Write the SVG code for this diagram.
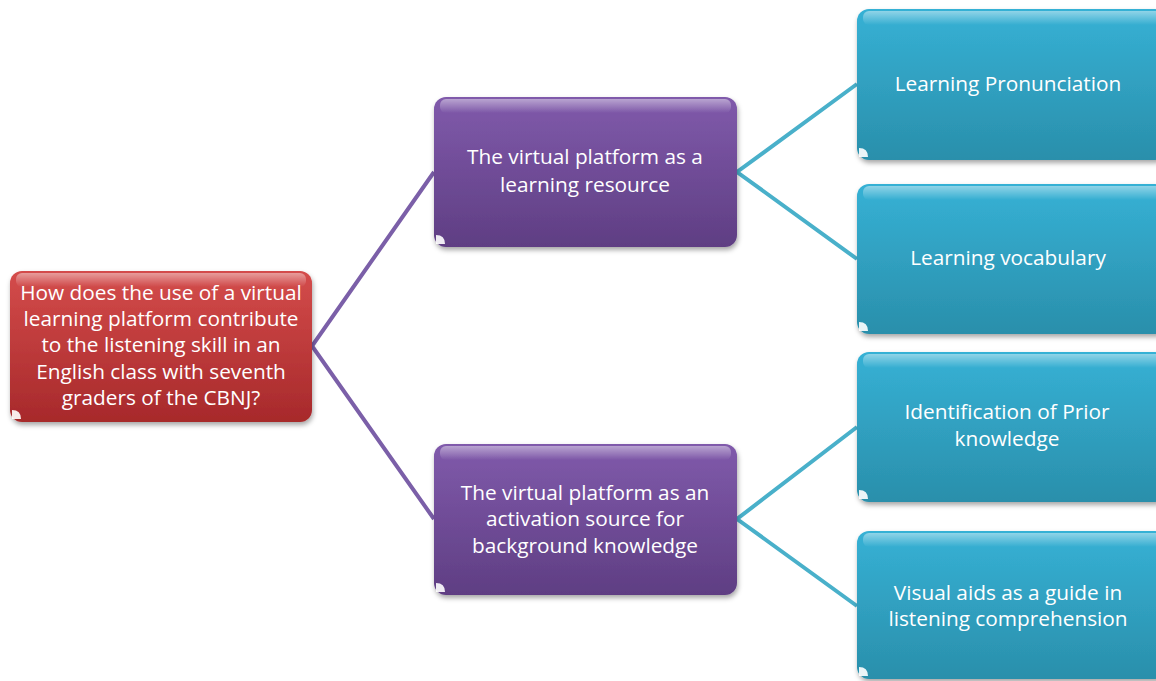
<svg xmlns="http://www.w3.org/2000/svg" width="1156" height="681" viewBox="0 0 1156 681">
<defs>
<linearGradient id="gRed" x1="0" y1="0" x2="0" y2="1"><stop offset="0" stop-color="#d44c4b"/><stop offset="1" stop-color="#a7292b"/></linearGradient>
<linearGradient id="gPur" x1="0" y1="0" x2="0" y2="1"><stop offset="0" stop-color="#805aab"/><stop offset="1" stop-color="#5f3e83"/></linearGradient>
<linearGradient id="gBlu" x1="0" y1="0" x2="0" y2="1"><stop offset="0" stop-color="#36b1d5"/><stop offset="1" stop-color="#2a8fab"/></linearGradient>
<linearGradient id="gHi" x1="0" y1="0" x2="0" y2="1"><stop offset="0" stop-color="#fff" stop-opacity="0.45"/><stop offset="1" stop-color="#fff" stop-opacity="0"/></linearGradient>
<filter id="sh" x="-10%" y="-10%" width="120%" height="130%"><feDropShadow dx="1" dy="3" stdDeviation="2.5" flood-color="#000" flood-opacity="0.35"/></filter>
</defs>
<style>
.t{font-family:"Open Sans","Liberation Sans",sans-serif;font-size:20.8px;fill:#fff;text-anchor:middle}
.hi{fill:url(#gHi)}
.cn{fill:#fff;opacity:0.9}
.cp{fill:none;stroke:#7b5fa8;stroke-width:4}
.cb{fill:none;stroke:#49b0ca;stroke-width:4}
</style>
<g id="connectors">
<polyline class="cp" points="434,172 312,346 434,519"/>
<polyline class="cb" points="857,84 737,172 857,259"/>
<polyline class="cb" points="857,427 737,519 857,606"/>
</g>
<g id="root">
<rect x="10" y="271" width="302" height="151" rx="12" fill="url(#gRed)" filter="url(#sh)"/>
<rect x="16" y="273" width="290" height="14" rx="6" class="hi"/>
<path class="cn" d="M12,410 L12,419 L21,419 Q21,410 12,410Z"/>
<text class="t" x="161" y="300">How does the use of a virtual</text>
<text class="t" x="161" y="326">learning platform contribute</text>
<text class="t" x="161" y="352">to the listening skill in an</text>
<text class="t" x="161" y="379">English class with seventh</text>
<text class="t" x="161" y="405">graders of the CBNJ?</text>
</g>
<g id="p1">
<rect x="434" y="97" width="303" height="150" rx="12" fill="url(#gPur)" filter="url(#sh)"/>
<rect x="440" y="99" width="291" height="14" rx="6" class="hi"/>
<path class="cn" d="M436,235 L436,244 L445,244 Q445,235 436,235Z"/>
<text class="t" x="585" y="164">The virtual platform as a</text>
<text class="t" x="585" y="192">learning resource</text>
</g>
<g id="p2">
<rect x="434" y="444" width="303" height="151" rx="12" fill="url(#gPur)" filter="url(#sh)"/>
<rect x="440" y="446" width="291" height="14" rx="6" class="hi"/>
<path class="cn" d="M436,583 L436,592 L445,592 Q445,583 436,583Z"/>
<text class="t" x="585" y="500">The virtual platform as an</text>
<text class="t" x="585" y="526">activation source for</text>
<text class="t" x="585" y="553">background knowledge</text>
</g>
<g id="b1">
<rect x="857" y="9" width="310" height="151" rx="12" fill="url(#gBlu)" filter="url(#sh)"/>
<rect x="863" y="11" width="298" height="14" rx="6" class="hi"/>
<path class="cn" d="M859,148 L859,157 L868,157 Q868,148 859,148Z"/>
<text class="t" x="1008" y="91">Learning Pronunciation</text>
</g>
<g id="b2">
<rect x="857" y="184" width="310" height="150" rx="12" fill="url(#gBlu)" filter="url(#sh)"/>
<rect x="863" y="186" width="298" height="14" rx="6" class="hi"/>
<path class="cn" d="M859,322 L859,331 L868,331 Q868,322 859,322Z"/>
<text class="t" x="1008" y="265">Learning vocabulary</text>
</g>
<g id="b3">
<rect x="857" y="352" width="310" height="150" rx="12" fill="url(#gBlu)" filter="url(#sh)"/>
<rect x="863" y="354" width="298" height="14" rx="6" class="hi"/>
<path class="cn" d="M859,490 L859,499 L868,499 Q868,490 859,490Z"/>
<text class="t" x="1007" y="419">Identification of Prior</text>
<text class="t" x="1007" y="446">knowledge</text>
</g>
<g id="b4">
<rect x="857" y="531" width="310" height="148" rx="12" fill="url(#gBlu)" filter="url(#sh)"/>
<rect x="863" y="533" width="298" height="14" rx="6" class="hi"/>
<path class="cn" d="M859,667 L859,676 L868,676 Q868,667 859,667Z"/>
<text class="t" x="1008" y="600">Visual aids as a guide in</text>
<text class="t" x="1008" y="626">listening comprehension</text>
</g>
</svg>
